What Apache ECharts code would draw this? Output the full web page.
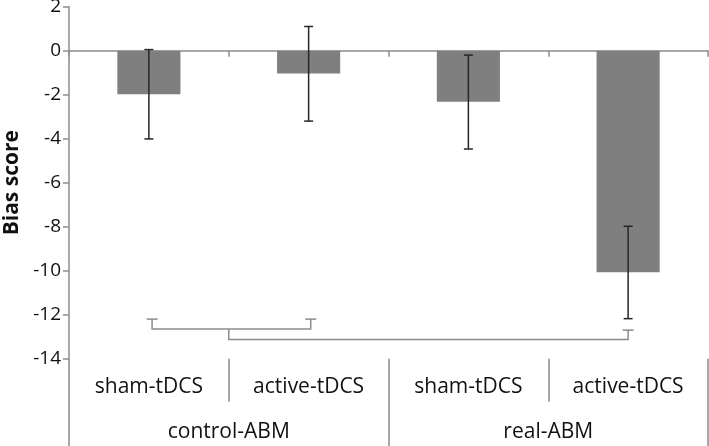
<!DOCTYPE html>
<html>
<head>
<meta charset="utf-8">
<script src="https://cdn.jsdelivr.net/npm/echarts@6/dist/echarts.min.js"></script>
<style>
html,body{margin:0;padding:0;background:#fff;}
#chart{width:709px;height:446px;}
</style>
</head>
<body>
<div id="chart"></div>
<script>
// ---- data ----
const conditions = ['sham-tDCS', 'active-tDCS', 'sham-tDCS', 'active-tDCS'];
const groups = ['control-ABM', 'real-ABM'];
const means = [-1.98, -1.04, -2.32, -10.07];
const errUpper = [0.05, 1.1, -0.2, -7.98];
const errLower = [-4.01, -3.2, -4.47, -12.18];
// brackets: [xStart, xEnd, leftTop, lineLevel, rightTop, leftCap, rightCap]
const brackets = [
  [0.02, 1.013, -12.2, -12.65, -12.2, 1, 1],
  [0.5, 3.0, -12.65, -13.13, -12.7, 0, 1]
];
const yMin = -14, yMax = 2, yStep = 2;

const gray = '#8c8c8c';
const font = '"Open Sans", "Liberation Sans", sans-serif';

const chart = echarts.init(document.getElementById('chart'), null, {renderer: 'canvas'});

const errData = means.map((m, i) => [i, errLower[i], errUpper[i]]);

chart.setOption({
  animation: false,
  backgroundColor: '#fff',
  grid: {left: 69, right: 1, top: 6.7, bottom: 87.3, containLabel: false, outerBoundsMode: 'none'},
  xAxis: [
    {
      type: 'category', data: conditions, position: 'bottom',
      axisLine: {show: false, onZero: false},
      axisTick: {show: true, length: 43, alignWithLabel: false, interval: 0, lineStyle: {color: gray, width: 1.5}},
      axisLabel: {interval: 0, margin: 18, fontSize: 21, color: '#111', fontFamily: font},
      splitLine: {show: false}
    },
    {
      type: 'category', data: groups, position: 'bottom',
      axisLine: {show: false, onZero: false},
      axisTick: {show: true, length: 88, alignWithLabel: false, interval: 0, lineStyle: {color: gray, width: 1.5}},
      axisLabel: {interval: 0, margin: 63, fontSize: 21, color: '#111', fontFamily: font},
      splitLine: {show: false}
    },
    {
      type: 'category', data: conditions, position: 'bottom',
      axisLine: {show: true, onZero: true, lineStyle: {color: gray, width: 1.5}},
      axisTick: {show: true, length: 6, alignWithLabel: false, interval: 0, lineStyle: {color: gray, width: 1.5}},
      axisLabel: {show: false},
      splitLine: {show: false}
    },
    {
      type: 'value', min: -0.5, max: 3.5, show: false, position: 'bottom',
      axisLine: {onZero: false}
    }
  ],
  yAxis: {
    type: 'value', min: yMin, max: yMax, interval: yStep, position: 'left',
    name: 'Bias score', nameLocation: 'middle', nameGap: 34, nameRotate: 90,
    nameTextStyle: {fontSize: 21, fontWeight: 'bold', color: '#111', fontFamily: font},
    axisLine: {show: true, onZero: false, lineStyle: {color: gray, width: 1.5}},
    axisTick: {show: true, length: 6, inside: false, lineStyle: {color: gray, width: 1.5}},
    axisLabel: {margin: 8, fontSize: 19, color: '#111', fontFamily: font},
    splitLine: {show: false}
  },
  series: [
    {
      type: 'bar', xAxisIndex: 0, data: means, barWidth: '39.5%',
      itemStyle: {color: '#7f7f7f'}, z: 2
    },
    {
      type: 'custom', xAxisIndex: 0, data: errData, z: 5,
      encode: {x: 0, y: [1, 2]},
      renderItem: function (params, api) {
        const x = api.value(0);
        const lo = api.coord([x, api.value(1)]);
        const hi = api.coord([x, api.value(2)]);
        const c = 4.5;
        const st = {stroke: '#262626', lineWidth: 1.5};
        return {type: 'group', children: [
          {type: 'line', shape: {x1: lo[0], y1: lo[1], x2: hi[0], y2: hi[1]}, style: st},
          {type: 'line', shape: {x1: lo[0] - c, y1: lo[1], x2: lo[0] + c, y2: lo[1]}, style: st},
          {type: 'line', shape: {x1: hi[0] - c, y1: hi[1], x2: hi[0] + c, y2: hi[1]}, style: st}
        ]};
      }
    },
    {
      type: 'custom', xAxisIndex: 3, data: brackets, z: 4,
      encode: {x: [0, 1], y: [2, 3, 4]},
      renderItem: function (params, api) {
        const x1 = api.value(0), x2 = api.value(1);
        const pL = api.coord([x1, api.value(2)]);
        const pL2 = api.coord([x1, api.value(3)]);
        const pR2 = api.coord([x2, api.value(3)]);
        const pR = api.coord([x2, api.value(4)]);
        const c = 5.5;
        const st = {stroke: gray, lineWidth: 1.5, fill: null};
        const children = [
          {type: 'polyline', shape: {points: [pL, pL2, pR2, pR]}, style: st}
        ];
        if (api.value(5)) children.push({type: 'line', shape: {x1: pL[0] - c, y1: pL[1], x2: pL[0] + c, y2: pL[1]}, style: st});
        if (api.value(6)) children.push({type: 'line', shape: {x1: pR[0] - c, y1: pR[1], x2: pR[0] + c, y2: pR[1]}, style: st});
        return {type: 'group', children: children};
      }
    }
  ]
});
</script>
</body>
</html>
